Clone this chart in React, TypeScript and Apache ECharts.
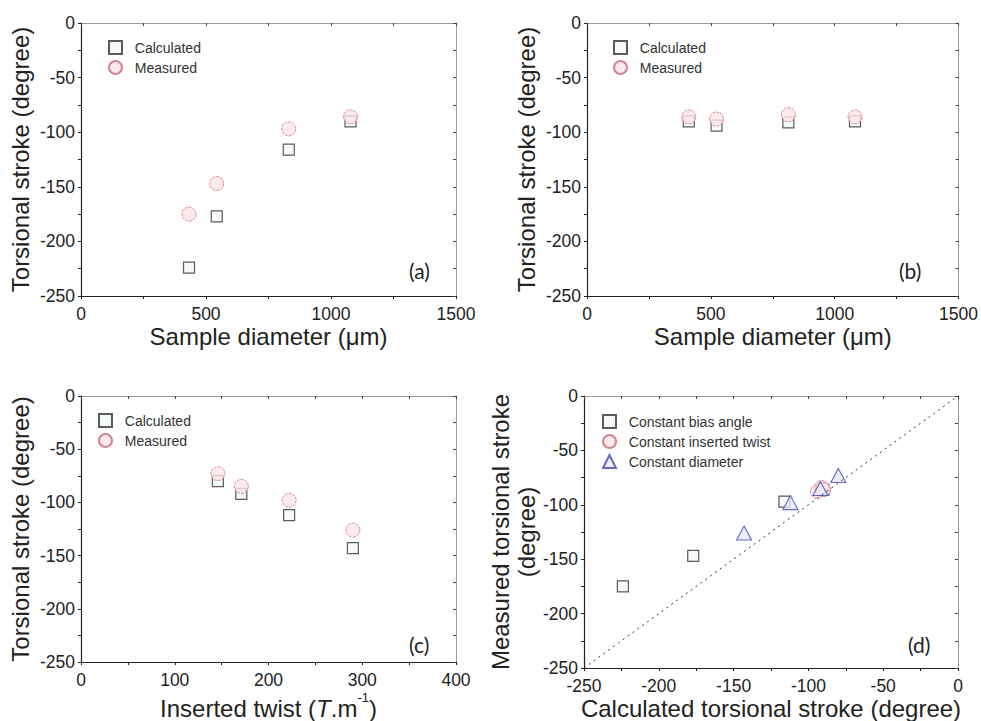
import React, { useEffect, useRef } from 'react';
import * as echarts from 'echarts';

// ---- data ----
// Panel (a): varying sample diameter
const diameterA = [432, 543, 831, 1078];
const calculatedA = [-224, -177, -116, -90];
const measuredA = [-175, -147, -97, -86];
// Panel (b): varying sample diameter, constant inserted twist
const diameterB = [411, 523, 813, 1082];
const calculatedB = [-90, -94, -91, -90];
const measuredB = [-86, -88, -84, -86];
// Panel (c): varying inserted twist
const twistC = [146, 171, 222, 290];
const calculatedC = [-80, -92, -112, -143];
const measuredC = [-73, -85, -98, -126];
// Legend names
const legendABC = ['Calculated', 'Measured'];
const legendD = ['Constant bias angle', 'Constant inserted twist', 'Constant diameter'];
const panelLabels = ['(a)', '(b)', '(c)', '(d)'];
const diagonal = [[-250, -250], [0, 0]];

const FONT = 'Liberation Sans';
const AX = '#222';
const AX2 = '#9a9a9a';

const zip = (xs: number[], ys: number[]) => xs.map((x, i) => [x, ys[i]]);
const plain = (v: number) => String(v);

const squareStyle = {
  symbol: 'rect',
  symbolSize: 11,
  itemStyle: { color: '#f3f7f9', borderColor: '#333', borderWidth: 1.2 },
};
const circleStyle = {
  symbol: 'circle',
  symbolSize: 14,
  itemStyle: { color: '#fde5e9', borderColor: '#c86878', borderWidth: 0.9, borderType: [3, 1] },
};
const triangleStyle = {
  symbol: 'triangle',
  symbolSize: [15, 14],
  itemStyle: { color: '#e9e9f9', borderColor: '#4545b0', borderWidth: 1.1 },
};

const titleStyle = { fontSize: 24, fontFamily: FONT, color: AX };

function bottomX(gridIndex: number, min: number, max: number, interval: number, name: string, nameTextStyle?: any) {
  return {
    type: 'value', gridIndex, position: 'bottom', min, max, interval,
    name, nameLocation: 'middle', nameGap: 28,
    nameTextStyle: nameTextStyle || titleStyle,
    axisLine: { show: true, onZero: false, lineStyle: { color: AX, width: 1.2 } },
    axisTick: { show: true, inside: false, length: 3, lineStyle: { color: AX } },
    minorTick: { show: true, splitNumber: 2, length: 3, lineStyle: { color: AX } },
    splitLine: { show: false }, minorSplitLine: { show: false },
    axisLabel: { fontSize: 17.5, fontFamily: FONT, color: AX, margin: 9, formatter: plain },
  };
}
function topX(gridIndex: number, min: number, max: number, interval: number) {
  return {
    type: 'value', gridIndex, position: 'top', min, max, interval,
    axisLine: { show: true, onZero: false, lineStyle: { color: AX2, width: 1 } },
    axisTick: { show: true, inside: true, length: 3, lineStyle: { color: '#444' } },
    minorTick: { show: true, splitNumber: 2, length: 3, lineStyle: { color: '#444' } },
    splitLine: { show: false }, minorSplitLine: { show: false },
    axisLabel: { show: false },
  };
}
function leftY(gridIndex: number, name: string, nameGap: number, nameTextStyle?: any) {
  return {
    type: 'value', gridIndex, position: 'left', min: -250, max: 0, interval: 50,
    name, nameLocation: 'middle', nameGap,
    nameTextStyle: nameTextStyle || titleStyle,
    axisLine: { show: true, onZero: false, lineStyle: { color: AX, width: 1.2 } },
    axisTick: { show: true, inside: false, length: 3, lineStyle: { color: AX } },
    minorTick: { show: true, splitNumber: 2, length: 3, lineStyle: { color: AX } },
    splitLine: { show: false }, minorSplitLine: { show: false },
    axisLabel: { fontSize: 17.5, fontFamily: FONT, color: AX, margin: 6, formatter: plain },
  };
}
function rightY(gridIndex: number) {
  return {
    type: 'value', gridIndex, position: 'right', min: -250, max: 0, interval: 50,
    axisLine: { show: true, onZero: false, lineStyle: { color: AX2, width: 1 } },
    axisTick: { show: true, inside: true, length: 3, lineStyle: { color: '#444' } },
    minorTick: { show: true, splitNumber: 2, length: 3, lineStyle: { color: '#444' } },
    splitLine: { show: false }, minorSplitLine: { show: false },
    axisLabel: { show: false },
  };
}

function legend(left: number, top: number, data: string[]) {
  return {
    left, top, orient: 'vertical', data, itemWidth: 13, itemHeight: 13, itemGap: 5,
    selectedMode: false, padding: 0,
    formatter: (n: string) => '  ' + n,
    textStyle: { fontSize: 14, fontFamily: FONT, color: '#333' },
  };
}

function scatter(name: string, idx: number, data: number[][], style: any) {
  return {
    type: 'scatter', name, xAxisIndex: idx, yAxisIndex: idx, data, silent: true,
    ...style,
  };
}

const twistName = '{n|Inserted twist (}{i|T}{n|.m}{s|-1}{n|)}';
const twistNameStyle = {
  fontSize: 24, fontFamily: FONT, color: AX,
  rich: {
    n: { fontSize: 24, fontFamily: FONT, color: AX, lineHeight: 30, verticalAlign: 'bottom' },
    i: { fontSize: 24, fontFamily: FONT, color: AX, fontStyle: 'italic', lineHeight: 30, verticalAlign: 'bottom' },
    s: { fontSize: 13, fontFamily: FONT, color: AX, lineHeight: 30, verticalAlign: 'top', padding: [1, 0, 0, 0] },
  },
};

const labelStyle = (text: string) => ({ text, fontSize: 21, fontFamily: 'Lato', fill: AX, verticalAlign: 'middle' });

const option = {
  animation: false,
  backgroundColor: '#fff',
  grid: [
    { left: 81, top: 23, width: 375, height: 273 },
    { left: 587, top: 23, width: 373, height: 273 },
    { left: 81, top: 396, width: 375, height: 275 },
    { left: 584, top: 396, width: 374, height: 275 },
  ],
  xAxis: [
    bottomX(0, 0, 1500, 500, 'Sample diameter (μm)'), topX(0, 0, 1500, 500),
    bottomX(1, 0, 1500, 500, 'Sample diameter (μm)'), topX(1, 0, 1500, 500),
    bottomX(2, 0, 400, 100, twistName, twistNameStyle), topX(2, 0, 400, 100),
    bottomX(3, -250, 0, 50, 'Calculated torsional stroke (degree)'), topX(3, -250, 0, 50),
  ],
  yAxis: [
    leftY(0, 'Torsional stroke (degree)', 49), rightY(0),
    leftY(1, 'Torsional stroke (degree)', 49), rightY(1),
    leftY(2, 'Torsional stroke (degree)', 49), rightY(2),
    leftY(3, 'Measured torsional stroke\n(degree)', 44, { ...titleStyle, lineHeight: 26 }), rightY(3),
  ],
  legend: [
    legend(108, 40, legendABC),
    legend(613, 40, legendABC),
    legend(98, 413, legendABC),
    legend(602, 414, legendD),
  ],
  graphic: [
    { type: 'text', x: 409, y: 270, style: labelStyle(panelLabels[0]) },
    { type: 'text', x: 899, y: 270, style: labelStyle(panelLabels[1]) },
    { type: 'text', x: 409, y: 644, style: labelStyle(panelLabels[2]) },
    { type: 'text', x: 908, y: 644, style: labelStyle(panelLabels[3]) },
  ],
  series: [
    scatter('Calculated', 0, zip(diameterA, calculatedA), squareStyle),
    scatter('Measured', 0, zip(diameterA, measuredA), circleStyle),
    scatter('Calculated', 2, zip(diameterB, calculatedB), squareStyle),
    scatter('Measured', 2, zip(diameterB, measuredB), circleStyle),
    scatter('Calculated', 4, zip(twistC, calculatedC), squareStyle),
    scatter('Measured', 4, zip(twistC, measuredC), circleStyle),
    {
      type: 'line', name: 'diag', xAxisIndex: 6, yAxisIndex: 6, data: diagonal, symbol: 'none', silent: true,
      lineStyle: { color: '#333', width: 1, type: [2, 4] },
    },
    scatter(legendD[0], 6, zip(calculatedA, measuredA), squareStyle),
    scatter(legendD[1], 6, zip(calculatedB, measuredB), circleStyle),
    scatter(legendD[2], 6, zip(calculatedC, measuredC), triangleStyle),
  ],
};

export default function App() {
  const ref = useRef<HTMLDivElement>(null);
  useEffect(() => {
    const chart = echarts.init(ref.current!, null, { renderer: 'svg' });
    chart.setOption(option as any);
    return () => chart.dispose();
  }, []);
  return (
    <div
      ref={ref}
      style={{ position: 'fixed', left: 0, top: 0, width: 981, height: 721, background: '#fff' }}
    />
  );
}
